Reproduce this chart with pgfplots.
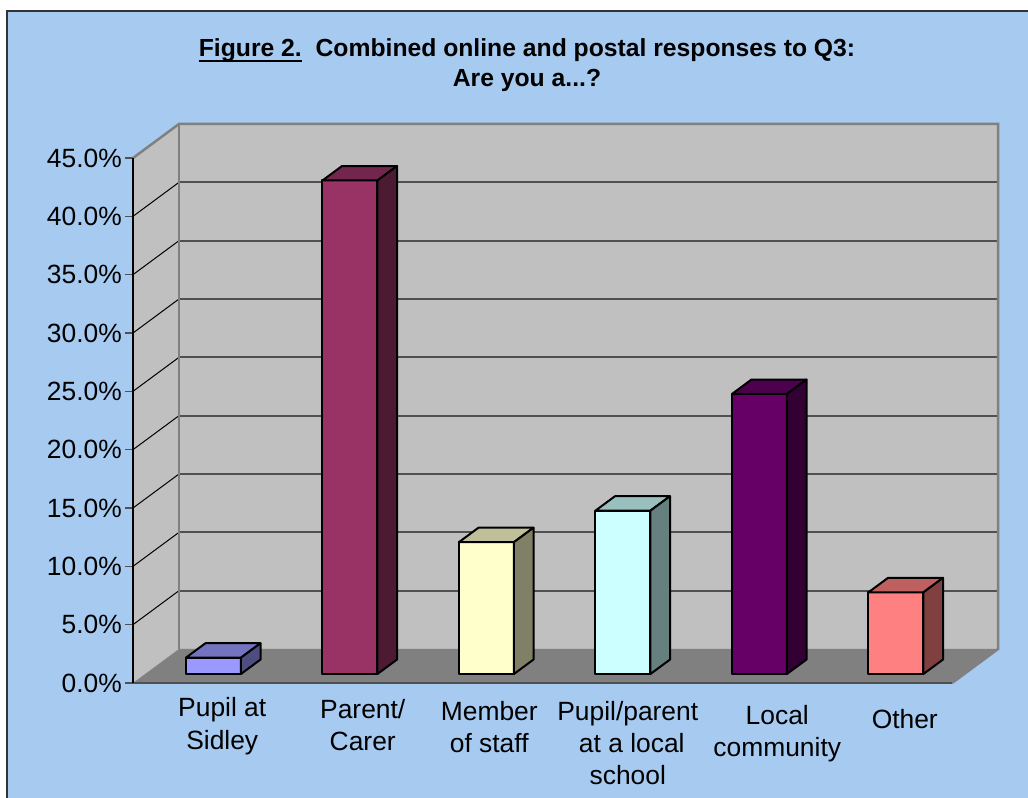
\documentclass[border=0pt]{standalone}
\usepackage{pgfplots}
\pgfplotsset{compat=1.18}
\usepackage{fontspec}
\setmainfont{Liberation Sans}
\definecolor{bg}{HTML}{A6CAF0}
\definecolor{wall}{HTML}{C0C0C0}
\definecolor{floorc}{HTML}{808080}
\definecolor{edgec}{HTML}{808080}
\definecolor{gridc}{HTML}{505050}
% bar colours: front / top / side
\definecolor{aF}{HTML}{9999FF}\definecolor{aT}{HTML}{7373BF}\definecolor{aS}{HTML}{4D4D80}
\definecolor{bF}{HTML}{993366}\definecolor{bT}{HTML}{73264D}\definecolor{bS}{HTML}{4D1A33}
\definecolor{cF}{HTML}{FFFFCC}\definecolor{cT}{HTML}{BFBF99}\definecolor{cS}{HTML}{808066}
\definecolor{dF}{HTML}{CCFFFF}\definecolor{dT}{HTML}{99BFBF}\definecolor{dS}{HTML}{668080}
\definecolor{eF}{HTML}{660066}\definecolor{eT}{HTML}{4D004D}\definecolor{eS}{HTML}{330033}
\definecolor{fF}{HTML}{FF8080}\definecolor{fT}{HTML}{BF6060}\definecolor{fS}{HTML}{804040}
\newcommand\myul[1]{\leavevmode\setbox0\hbox{#1}\rlap{\rule[-5bp]{\wd0}{2bp}}\box0}
% depth geometry (category units / percent units)
\def\dX{0.337}\def\dY{2.914}\def\hw{0.2015}\def\fa{0.265}\def\fb{0.69}
\tikzset{barline/.style={draw=black,line width=2bp,line join=round}}
\newcommand{\tbar}[5]{%
 \pgfmathsetmacro\xa{#1-\hw+\fa*\dX}%
 \pgfmathsetmacro\xb{#1+\hw+\fa*\dX}%
 \pgfmathsetmacro\xc{#1-\hw+\fb*\dX}%
 \pgfmathsetmacro\xd{#1+\hw+\fb*\dX}%
 \pgfmathsetmacro\ya{\fa*\dY}%
 \pgfmathsetmacro\yb{#2+\fa*\dY}%
 \pgfmathsetmacro\yc{\fb*\dY}%
 \pgfmathsetmacro\yd{#2+\fb*\dY}%
 \addplot[fill=#3,barline] coordinates {(\xa,\ya) (\xb,\ya) (\xb,\yb) (\xa,\yb)} -- cycle;
 \addplot[fill=#4,barline] coordinates {(\xa,\yb) (\xb,\yb) (\xd,\yd) (\xc,\yd)} -- cycle;
 \addplot[fill=#5,barline] coordinates {(\xb,\ya) (\xd,\yc) (\xd,\yd) (\xb,\yb)} -- cycle;
}
\newcommand\Lp[1]{\hspace*{#1}}
\begin{document}
\begin{tikzpicture}[x=1bp,y=1bp]
\fill[white] (0,0) rectangle (1028,798);
\fill[bg] (7,0) rectangle (1028,787);
\draw[line width=2bp, black!80] (7,0) -- (7,787) -- (1028,787);
\node[font=\fontsize{24.8}{29}\selectfont\bfseries, anchor=base, inner sep=0] at (527,741)
  {\myul{Figure 2.}\hspace{0.56em}Combined online and postal responses to Q3:};
\node[font=\fontsize{24.8}{29}\selectfont\bfseries, anchor=base, inner sep=0] at (527,711)
  {Are you a...?};
\begin{scope}[xshift=133bp, yshift=115bp]
\begin{axis}[at={(0pt,0pt)}, anchor=south west, x=136.5bp, y=11.6667bp,
  xmin=-0.5, xmax=5.5, ymin=0, ymax=45, clip=false,
  axis line style={draw=none},
  ytick pos=left, xtick pos=bottom,
  ytick={0,5,...,45}, tick align=outside, major tick length=8bp,
  ytick style={draw=gridc, line width=1.5bp},
  xtick={0,...,5}, xtick style={draw=none},
  /pgf/number format/assume math mode=true,
  yticklabel={\pgfmathprintnumber[fixed,fixed zerofill,precision=1]{\tick}\%},
  yticklabel style={font=\fontsize{26.5}{30}\selectfont, inner sep=3bp},
  xticklabels={{Pupil at\\Sidley},
    {\rule{0pt}{20.5bp}\Lp{8bp}Parent/\\\Lp{8bp}Carer},
    {\rule{0pt}{22.5bp}Member\Lp{12bp}\\of staff\Lp{12bp}},
    {\rule{0pt}{22.5bp}Pupil/parent\Lp{8bp}\\at a local\Lp{8bp}\\school\Lp{8bp}},
    {\rule{0pt}{26.5bp}\Lp{18bp}Local\\\Lp{18bp}community},
    {\rule{0pt}{31bp}Other}},
  xticklabel style={align=center, font=\fontsize{26.5}{32.5}\selectfont, xshift=21bp, yshift=-3bp},
  ]
 % back wall
 \addplot[fill=wall, draw=none] coordinates {(-0.163,2.914) (5.837,2.914) (5.837,47.914) (-0.163,47.914)} -- cycle;
 % left wall
 \addplot[fill=wall, draw=none] coordinates {(-0.5,0) (-0.163,2.914) (-0.163,47.914) (-0.5,45)} -- cycle;
 % back-wall gridlines
 \addplot[gridc, line width=1.8bp] coordinates {(-0.163,7.914) (5.837,7.914)};
 \addplot[gridc, line width=1.8bp] coordinates {(-0.163,12.914) (5.837,12.914)};
 \addplot[gridc, line width=1.8bp] coordinates {(-0.163,17.914) (5.837,17.914)};
 \addplot[gridc, line width=1.8bp] coordinates {(-0.163,22.914) (5.837,22.914)};
 \addplot[gridc, line width=1.8bp] coordinates {(-0.163,27.914) (5.837,27.914)};
 \addplot[gridc, line width=1.8bp] coordinates {(-0.163,32.914) (5.837,32.914)};
 \addplot[gridc, line width=1.8bp] coordinates {(-0.163,37.914) (5.837,37.914)};
 \addplot[gridc, line width=1.8bp] coordinates {(-0.163,42.914) (5.837,42.914)};
 % left-wall gridlines
 \addplot[black, line width=1bp] coordinates {(-0.5,5) (-0.163,7.914)};
 \addplot[black, line width=1bp] coordinates {(-0.5,10) (-0.163,12.914)};
 \addplot[black, line width=1bp] coordinates {(-0.5,15) (-0.163,17.914)};
 \addplot[black, line width=1bp] coordinates {(-0.5,20) (-0.163,22.914)};
 \addplot[black, line width=1bp] coordinates {(-0.5,25) (-0.163,27.914)};
 \addplot[black, line width=1bp] coordinates {(-0.5,30) (-0.163,32.914)};
 \addplot[black, line width=1bp] coordinates {(-0.5,35) (-0.163,37.914)};
 \addplot[black, line width=1bp] coordinates {(-0.5,40) (-0.163,42.914)};
 % floor
 \addplot[fill=floorc, draw=none] coordinates {(-0.5,0) (5.5,0) (5.837,2.914) (-0.163,2.914)} -- cycle;
 % wall edges
 \addplot[edgec, line width=2.5bp] coordinates {(-0.5,45) (-0.163,47.914) (5.837,47.914) (5.837,2.914) (5.5,0)};
 \addplot[edgec, line width=2.5bp] coordinates {(-0.163,2.914) (-0.163,47.914)};
 % front floor edge and value axis line
 \addplot[gridc, line width=1.8bp] coordinates {(-0.5,0) (5.5,0)};
 \addplot[black, line width=1.5bp] coordinates {(-0.5,0) (-0.5,45)};
 % bars: index, value (%), colours
 \tbar{0}{1.4}{aF}{aT}{aS}
 \tbar{1}{42.3}{bF}{bT}{bS}
 \tbar{2}{11.3}{cF}{cT}{cS}
 \tbar{3}{14.0}{dF}{dT}{dS}
 \tbar{4}{24.0}{eF}{eT}{eS}
 \tbar{5}{7.0}{fF}{fT}{fS}
\end{axis}
\end{scope}
\pgfresetboundingbox
\useasboundingbox (0,0) rectangle (1028,798);
\end{tikzpicture}
\end{document}
